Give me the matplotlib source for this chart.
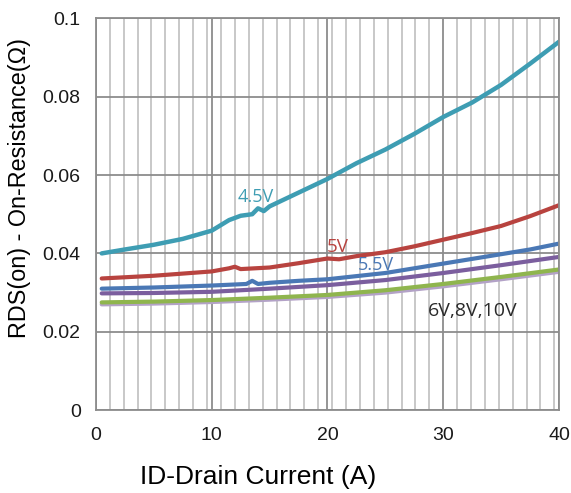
import numpy as np
import matplotlib
matplotlib.use("Agg")
import matplotlib.pyplot as plt
from matplotlib.ticker import MultipleLocator

# drain current (A) and on-resistance (ohm)
x_45 = [0.5, 2.5, 5, 7.5, 10, 11.5, 12.5, 13.5, 14, 14.5, 15, 17.5, 20, 22.5, 25, 27.5, 30, 32.5, 35, 37.5, 40]
r_45 = [0.0400, 0.0410, 0.0422, 0.0437, 0.0458, 0.0485, 0.0496, 0.0500, 0.0515, 0.0508, 0.0520, 0.0555,
        0.0590, 0.0630, 0.0665, 0.0705, 0.0748, 0.0785, 0.0830, 0.0884, 0.0940]

x_5 = [0.5, 5, 10, 11.5, 12, 12.5, 15, 17.5, 20, 21, 22.5, 25, 27.5, 30, 32.5, 35, 37.5, 40]
r_5 = [0.0336, 0.0343, 0.0354, 0.0362, 0.0366, 0.0360, 0.0364, 0.0375, 0.0387, 0.0385, 0.0393, 0.0403,
       0.0418, 0.0435, 0.0452, 0.0470, 0.0495, 0.0523]

x_55 = [0.5, 5, 10, 13, 13.5, 14, 15, 17.5, 20, 22.5, 25, 27.5, 30, 32.5, 35, 37.5, 40]
r_55 = [0.0310, 0.0313, 0.0318, 0.0322, 0.0330, 0.0322, 0.0325, 0.0330, 0.0334, 0.0342, 0.0350, 0.0362,
        0.0374, 0.0386, 0.0398, 0.0410, 0.0425]

x_low = [0.5, 5, 10, 15, 20, 25, 30, 35, 40]
r_6 = [0.0298, 0.0299, 0.0302, 0.0310, 0.0319, 0.0332, 0.0350, 0.0370, 0.0391]
r_8 = [0.0275, 0.0277, 0.0281, 0.0287, 0.0294, 0.0306, 0.0322, 0.0340, 0.0359]
r_10 = [0.0270, 0.0272, 0.0276, 0.0282, 0.0289, 0.0300, 0.0316, 0.0334, 0.0353]

yticks = [0, 0.02, 0.04, 0.06, 0.08, 0.1]
ylabels = ["0", "0.02", "0.04", "0.06", "0.08", "0.1"]

fig = plt.figure(figsize=(5.71, 4.93), dpi=100)
ax = fig.add_axes([0.168, 0.168, 0.811, 0.795])

ax.plot(x_low, r_10, color="#B3A2C7", lw=3, solid_capstyle="round")
ax.plot(x_low, r_8, color="#8FB54E", lw=3, solid_capstyle="round")
ax.plot(x_low, r_6, color="#7B5E9E", lw=3, solid_capstyle="round")
ax.plot(x_55, r_55, color="#4A78B5", lw=3, solid_capstyle="round")
ax.plot(x_5, r_5, color="#B8433F", lw=3, solid_capstyle="round")
ax.plot(x_45, r_45, color="#3E9DB3", lw=3.2, solid_capstyle="round")

ax.set_xlim(0, 40)
ax.set_ylim(0, 0.1)
ax.xaxis.set_major_locator(MultipleLocator(10))
ax.xaxis.set_minor_locator(MultipleLocator(1.2))
ax.set_yticks(yticks)
ax.set_yticklabels(ylabels)

ax.grid(which="minor", axis="x", color="#c4c4c4", lw=1.3)
ax.grid(which="major", axis="both", color="#8c8c8c", lw=1.3)
ax.set_axisbelow(True)
for s in ax.spines.values():
    s.set_color("#8c8c8c")
    s.set_linewidth(1.3)

ax.tick_params(which="both", length=0, labelsize=14, colors="#1a1a1a")
ax.tick_params(axis="x", pad=12)
ax.tick_params(axis="y", pad=11)
for lab in ax.get_xticklabels() + ax.get_yticklabels():
    lab.set_family("Liberation Sans")

ax.set_xlabel("ID-Drain Current (A)", fontsize=19, family="Liberation Sans")
ax.xaxis.set_label_coords(0.35, -0.14)
ax.set_ylabel("RDS(on) - On-Resistance(\u03a9)", fontsize=16.8, family="Liberation Sans")
ax.yaxis.set_label_coords(-0.14, 0.566)

ax.text(12.2, 0.0531, "4.5V", color="#3E9DB3", fontsize=13, family="Open Sans")
ax.text(19.9, 0.0403, "5V", color="#B8433F", fontsize=13.5, family="Open Sans")
ax.text(22.6, 0.0357, "5.5V", color="#4A78B5", fontsize=13, family="Open Sans")
ax.text(28.7, 0.0240, "6V,8V,10V", color="#2a2a2a", fontsize=14, family="Open Sans")

fig.savefig("out.png", dpi=100)
